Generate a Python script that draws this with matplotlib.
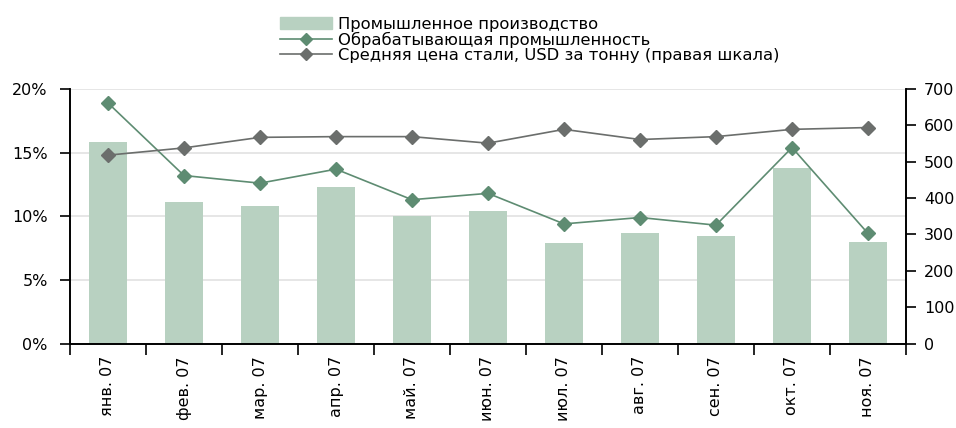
import numpy as np
import matplotlib.pyplot as plt
from matplotlib.patches import Patch
from matplotlib.lines import Line2D

plt.rcParams['font.family'] = ['DejaVu Sans']

months = ['янв. 07', 'фев. 07', 'мар. 07', 'апр. 07', 'май. 07', 'июн. 07',
          'июл. 07', 'авг. 07', 'сен. 07', 'окт. 07', 'ноя. 07']
industry = [15.8, 11.1, 10.8, 12.3, 10.0, 10.4, 7.9, 8.7, 8.45, 13.8, 7.95]
manufacturing = [18.9, 13.2, 12.6, 13.7, 11.3, 11.8, 9.4, 9.9, 9.3, 15.4, 8.65]
steel_price = [518, 538, 567, 569, 569, 551, 589, 561, 569, 589, 594]

bar_color = '#b8d1c1'
green = '#5e8c72'
gray = '#6b6e6c'

fig = plt.figure(figsize=(9.56, 4.28), dpi=100)
ax = fig.add_axes([70 / 956, 1 - 343.5 / 428, 836 / 956, 254.5 / 428])
ax2 = ax.twinx()

x = np.arange(len(months))
ax.bar(x, industry, width=0.5, color=bar_color, zorder=2)
ax.plot(x, manufacturing, color=green, lw=1.2, marker='D', ms=7, zorder=3)
ax2.plot(x, steel_price, color=gray, lw=1.2, marker='D', ms=7.5, zorder=3)

ax.set_ylim(0, 20)
ax.set_yticks([0, 5, 10, 15, 20])
ax.set_yticklabels(['0%', '5%', '10%', '15%', '20%'])
ax2.set_ylim(0, 700)
ax2.set_yticks(range(0, 701, 100))
ax.grid(axis='y', color='#e2e2e2', lw=1.2, zorder=0)
ax.set_axisbelow(True)

ax.set_xlim(-0.5, len(months) - 0.5)
ax.set_xticks(np.arange(-0.5, len(months), 1))
ax.set_xticklabels([])
ax.set_xticks(x, minor=True)
ax.set_xticklabels(months, minor=True, rotation=90, fontsize=11.5)
ax.tick_params(axis='x', which='minor', length=0, pad=9)
ax.tick_params(axis='x', which='major', length=8, width=1.2, direction='out')
ax.tick_params(axis='y', length=7, width=1.2, labelsize=11.5, pad=9)
ax2.tick_params(axis='y', length=7, width=1.2, labelsize=11.5, pad=6)

for a in (ax, ax2):
    a.spines['top'].set_visible(False)
    for s in ('left', 'right', 'bottom'):
        a.spines[s].set_linewidth(1.2)

handles = [
    Patch(color=bar_color),
    Line2D([], [], color=green, lw=1.2, marker='D', ms=6),
    Line2D([], [], color=gray, lw=1.2, marker='D', ms=6),
]
labels = ['Промышленное производство', 'Обрабатывающая промышленность',
          'Средняя цена стали, USD за тонну (правая шкала)']
fig.legend(handles, labels, loc='upper left', bbox_to_anchor=(273 / 956, 1 - 10 / 428),
           frameon=False, fontsize=11.8, handlelength=3.2, handletextpad=0.35,
           labelspacing=0.0, borderaxespad=0)

fig.savefig('out.png', dpi=100)
